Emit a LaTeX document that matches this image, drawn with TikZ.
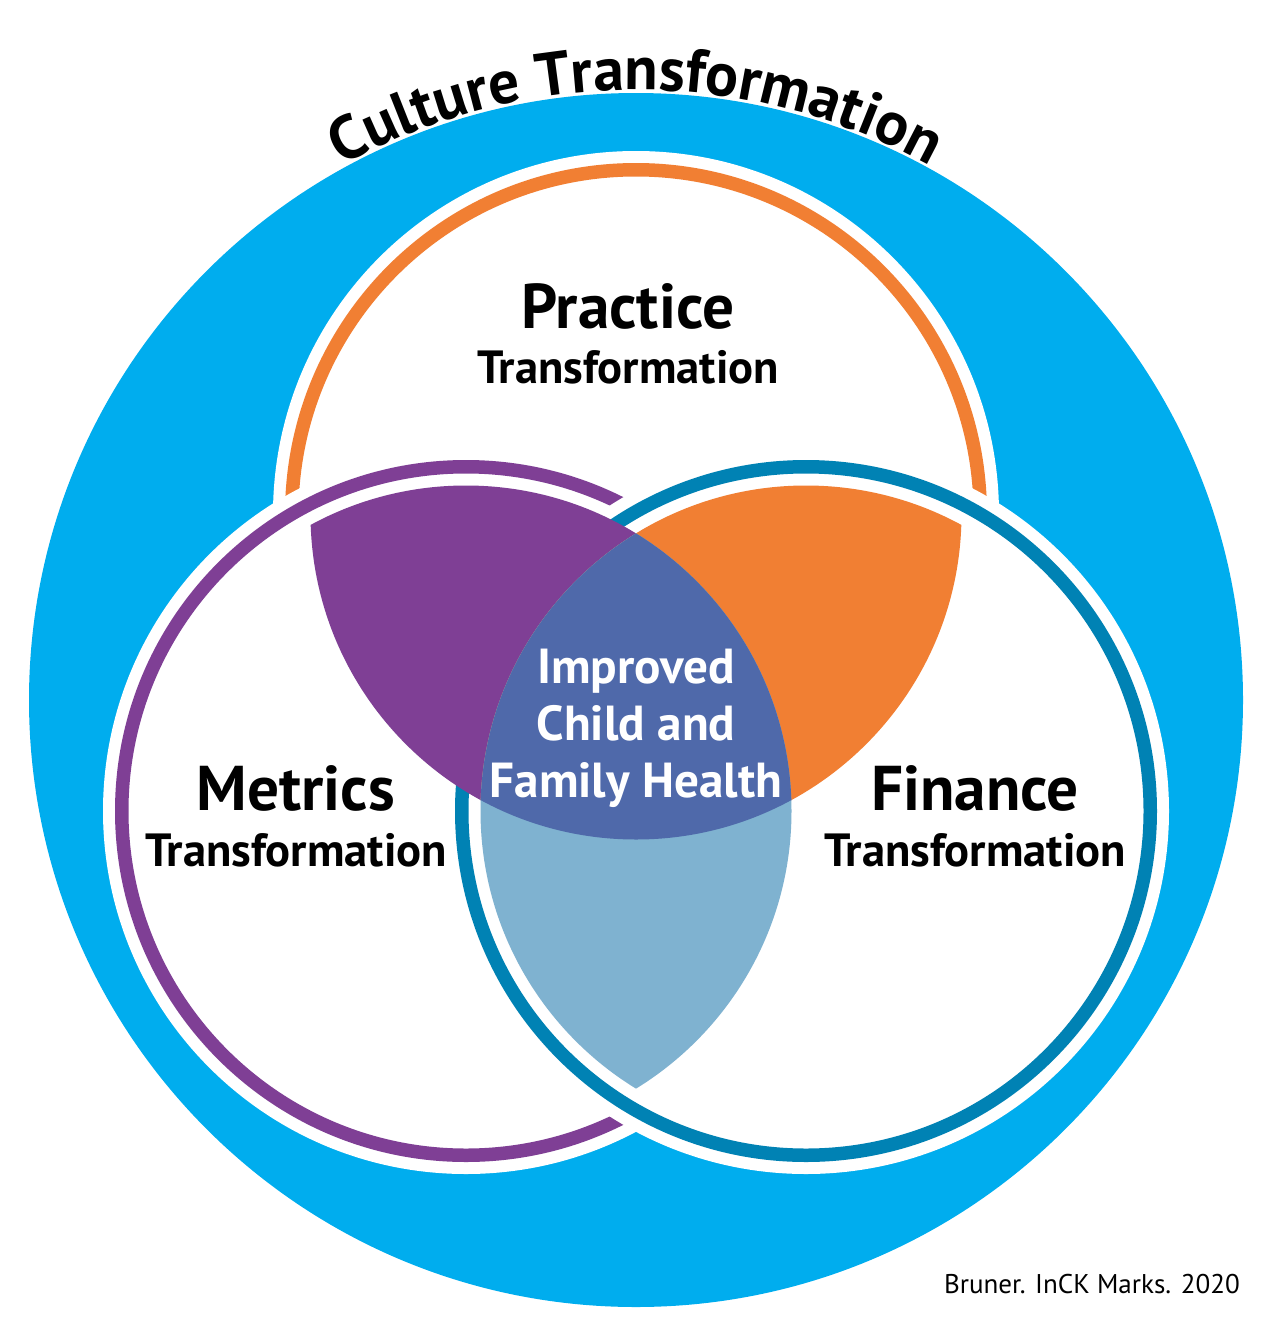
\documentclass[tikz,border=0pt]{standalone}
\usepackage{fontspec}
\setmainfont{PT Sans}
\usetikzlibrary{calc,decorations.text}

\definecolor{cultureblue}{RGB}{0,173,238}
\definecolor{practiceorange}{RGB}{241,127,51}
\definecolor{metricspurple}{RGB}{127,63,149}
\definecolor{financeteal}{RGB}{0,130,180}
\definecolor{healthblue}{RGB}{79,105,170}
\definecolor{lensblue}{RGB}{127,178,208}

\newcommand{\titlefont}{\fontsize{35}{41}\selectfont\bfseries}

\tikzset{
	headtext/.style={anchor=base,font=\fontsize{36}{42}\selectfont\bfseries},
	subtext/.style={anchor=base,font=\fontsize{26.5}{31}\selectfont\bfseries},
	healthtext/.style={anchor=base,align=center,text=white,font=\fontsize{28}{32.3}\selectfont\bfseries},
	creditnote/.style={anchor=base east,font=\fontsize{15.4}{18}\selectfont},
}

\begin{document}
\begin{tikzpicture}[x=0.02cm,y=0.02cm]
		\pgfmathsetmacro{\outerr}{363}
		\pgfmathsetmacro{\ringr}{344.25}
		\pgfmathsetmacro{\innerr}{325.5}
		\useasboundingbox (0,0) rectangle (1275,-1325);
		\coordinate(O)at(636,-700);
		\coordinate(P)at(636,-514);
		\coordinate(M)at(466,-811);
		\coordinate(F)at(806,-811);
		% outer culture disc
		\fill[cultureblue] (O) circle (607);
		% the three rings : practice first, finance on top
		\foreach \c/\col in {P/practiceorange,M/metricspurple,F/financeteal}{%
			\fill[white] (\c) circle (\outerr);
			\draw[\col,line width=0.27cm] (\c) circle (\ringr);
			}
		% overlaps of two circles, then of all three
		\begin{scope}
			\clip (P) circle (\innerr);
			\fill[metricspurple] (M) circle (\innerr);
			\fill[practiceorange] (F) circle (\innerr);
		\end{scope}
		\begin{scope}
			\clip (M) circle (\innerr);
			\fill[lensblue] (F) circle (\innerr);
			\clip (F) circle (\innerr);
			\fill[healthblue] (P) circle (\innerr);
		\end{scope}
		% title along the top of the disc
		\path[decorate,decoration={text along path,text align=center,
			text={|\titlefont|Culture Transformation}}]
			($(O)+(150:610)$) arc (150:30:610);
		% labels
		\node[headtext] (practice) at (628,-328) {Practice};
		\node[subtext] (practicesub) at (628,-383) {Transformation};
		\node[headtext] (metrics) at (296,-810) {Metrics};
		\node[subtext] (metricssub) at (296,-866) {Transformation};
		\node[headtext] (finance) at (975,-810) {Finance};
		\node[subtext] (financesub) at (975,-866) {Transformation};
		% base of a multi-line node = base of its last line
		\node[healthtext] (health) at (636,-797) {Improved\\Child and\\Family Health};
		\node[creditnote] (credit) at (1246,-1293) {Bruner. InCK Marks. 2020};
	\end{tikzpicture}
\end{document}
